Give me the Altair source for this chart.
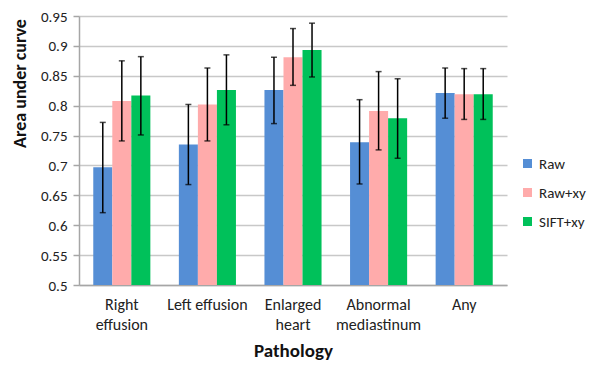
import altair as alt
import pandas as pd

categories = ["Right effusion", "Left effusion", "Enlarged heart", "Abnormal mediastinum", "Any"]
series = ["Raw", "Raw+xy", "SIFT+xy"]
raw = [0.697, 0.735, 0.826, 0.739, 0.821]
raw_hi = [0.772, 0.802, 0.881, 0.810, 0.863]
raw_lo = [0.621, 0.668, 0.770, 0.669, 0.779]
rawxy = [0.808, 0.802, 0.881, 0.791, 0.819]
rawxy_hi = [0.875, 0.863, 0.929, 0.857, 0.862]
rawxy_lo = [0.741, 0.741, 0.834, 0.726, 0.777]
sift = [0.817, 0.826, 0.893, 0.779, 0.819]
sift_hi = [0.882, 0.885, 0.938, 0.845, 0.862]
sift_lo = [0.751, 0.768, 0.848, 0.712, 0.777]
y_ticks = [0.5, 0.55, 0.6, 0.65, 0.7, 0.75, 0.8, 0.85, 0.9, 0.95]
colors = ["#558ED5", "#FFABAB", "#00C15A"]

rows = []
for name, v, hi, lo in [("Raw", raw, raw_hi, raw_lo), ("Raw+xy", rawxy, rawxy_hi, rawxy_lo), ("SIFT+xy", sift, sift_hi, sift_lo)]:
    for c, a, h, l in zip(categories, v, hi, lo):
        rows.append({"Pathology": c, "Series": name, "AUC": a, "hi": h, "lo": l, "base": 0.5})
df = pd.DataFrame(rows)

FONT = "Carlito, Lato, sans-serif"
label_expr = ("datum.label == 'Right effusion' ? ['Right','effusion'] : "
              "datum.label == 'Enlarged heart' ? ['Enlarged','heart'] : "
              "datum.label == 'Abnormal mediastinum' ? ['Abnormal','mediastinum'] : datum.label")

x = alt.X("Pathology:N", sort=categories,
          scale=alt.Scale(paddingInner=0.333, paddingOuter=0.1667),
          axis=alt.Axis(title="Pathology", labelAngle=0, labelExpr=label_expr, ticks=False,
                        labelFontSize=16, labelPadding=11, labelLineHeight=20, labelColor="#222",
                        titleFontSize=19, titleFontWeight="bold", titleY=71, titleBaseline="alphabetic",
                        titleColor="#111",
                        domainColor="#A6A6A6", domainWidth=1.5, grid=False))
xo = alt.XOffset("Series:N", sort=series)
yscale = alt.Scale(domain=[0.5, 0.95], nice=False, zero=False)
yaxis = alt.Axis(title="Area under curve", values=y_ticks, labelOverlap=False,
                 labelExpr="format(datum.value, '~g')", ticks=True, tickSize=6, tickColor="#A6A6A6",
                 tickWidth=1.5, labelFontSize=15, labelPadding=6, labelColor="#222",
                 titleFontSize=18, titleFontWeight="bold", titleX=-59, titleY=67, titleAlign="center",
                 titleBaseline="middle", titleAngle=270, titleColor="#111",
                 gridColor="#C8C8C8", gridWidth=1.5, domainColor="#A6A6A6", domainWidth=1.5)

bars = alt.Chart(df).mark_bar().encode(
    x=x, xOffset=xo,
    y=alt.Y("AUC:Q", scale=yscale, axis=yaxis),
    y2="base:Q",
    color=alt.Color("Series:N", sort=series, scale=alt.Scale(domain=series, range=colors),
                    legend=alt.Legend(title=None, orient="none", legendX=441, legendY=140,
                                      symbolType="square", symbolSize=81, symbolStrokeWidth=0,
                                      labelFontSize=15, labelColor="#222", rowPadding=13, labelOffset=4))
)

err = alt.Chart(df).mark_rule(color="black", strokeWidth=1.5).encode(
    x=x, xOffset=xo, y=alt.Y("lo:Q", scale=yscale, axis=yaxis), y2="hi:Q")
cap_hi = alt.Chart(df).mark_tick(color="black", thickness=1.5, size=6, orient="horizontal").encode(
    x=x, xOffset=xo, y=alt.Y("hi:Q", scale=yscale, axis=yaxis))
cap_lo = alt.Chart(df).mark_tick(color="black", thickness=1.5, size=6, orient="horizontal").encode(
    x=x, xOffset=xo, y=alt.Y("lo:Q", scale=yscale, axis=yaxis))

chart = alt.layer(bars, err, cap_hi, cap_lo).properties(
    width=428, height=269,
    autosize=alt.AutoSizeParams(type="none"),
    padding={"left": 71, "top": 8, "right": 82, "bottom": 76},
).configure(font=FONT).configure_view(stroke=None)

chart.save("out.html", embed_options={"renderer": "svg", "actions": False})
